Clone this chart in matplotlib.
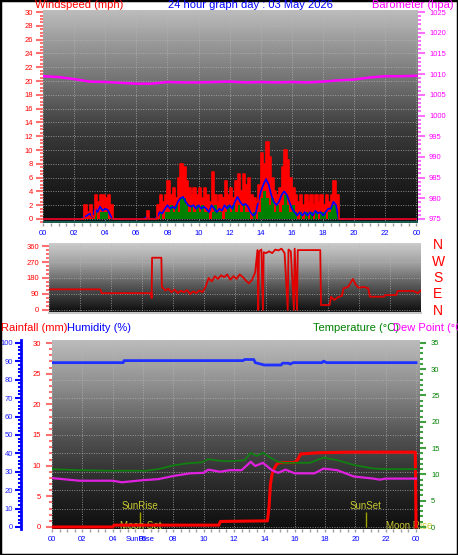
import matplotlib
matplotlib.use("Agg")
import matplotlib.pyplot as plt
import numpy as np
from matplotlib.patches import Rectangle
from matplotlib.ticker import MultipleLocator, FixedLocator, FuncFormatter

W, H = 458, 555
plt.rcParams["font.family"] = ["Liberation Sans", "DejaVu Sans"]

# --- wind (mph), 10 minute samples in two active spells, zero elsewhere ---
early_start, late_start = 2.5, 6.5
gust_early = [0, 2.0, 1.0, 2.0, 0.5, 3.5, 2.5, 3.5, 3.5, 3.0, 3.5, 2.0, 0]
avg_early = [0, 0.3, 0.5, 0.8, 0.3, 1.5, 1.0, 1.8, 1.2, 1.5, 1.3, 0.5, 0]
speed_early = [0, 0, 0, 0, 0, 1, 0, 1, 1, 1, 0, 0, 0]
gust_late = [0, 1.2, 0, 0, 0, 2.0, 3.5, 2.5, 3.5,
             5.5, 3.5, 4.5, 3.0, 6.0, 8.0,
             7.5, 5.5, 4.5, 3.5, 4.5, 3.5,
             4.5, 3.0, 4.5, 3.5, 2.5, 6.8,
             3.5, 2.5, 3.5, 3.0, 5.5, 3.5,
             4.5, 3.0, 5.5, 6.5, 4.0, 6.5,
             5.0, 6.0, 3.5, 3.0, 2.5, 5.0,
             9.5, 8.0, 11.2, 9.0, 6.0, 4.0,
             3.5, 4.5, 7.5, 10.0, 8.5, 6.0,
             4.5, 3.5, 2.5, 3.5, 2.0, 3.5,
             2.5, 3.5, 2.0, 3.5, 2.5, 3.5,
             2.0, 3.5, 2.5, 3.5, 5.5, 3.5,
             0]
avg_late = [0, 0.3, 0, 0, 0, 0.3, 1.0, 0.8, 1.5,
            2.0, 1.5, 1.8, 1.5, 2.5, 3.0,
            3.2, 2.5, 2.0, 1.8, 2.0, 1.5,
            2.0, 1.5, 1.8, 1.5, 1.0, 2.0,
            1.5, 1.0, 1.5, 1.2, 2.0, 1.5,
            2.0, 1.5, 2.5, 3.2, 2.5, 2.0,
            2.2, 1.8, 1.0, 0.5, 0.8, 2.5,
            4.0, 5.0, 5.8, 5.0, 3.5, 2.5,
            2.0, 2.5, 3.5, 4.0, 3.5, 2.5,
            1.5, 1.0, 0.5, 1.0, 0.5, 1.0,
            0.5, 1.0, 0.5, 1.2, 0.8, 1.0,
            0.5, 1.0, 1.5, 1.5, 2.5, 2.0,
            0]
speed_late = [0, 0, 0, 0, 0, 0, 1, 0, 1,
              1, 2, 1, 2, 1, 3,
              3, 2, 1, 2, 1, 2,
              1, 2, 1, 1, 0, 1,
              2, 1, 1, 0, 1, 2,
              1, 2, 1, 2, 1, 2,
              1, 1, 0, 1, 0, 1,
              3, 4, 3, 2, 3, 1,
              2, 1, 2, 3.5, 2, 1,
              2, 1, 0, 1, 0, 1,
              0, 1, 0, 1, 0, 1,
              1, 0, 1, 2, 2, 1,
              0]

# --- barometer (hPa), hourly ---
baro_t = list(range(25))
baro = [1009.5, 1009.3, 1008.8, 1008.2, 1008.1, 1007.9, 1007.7, 1007.7, 1008.1,
        1008.0, 1008.0, 1008.1, 1008.2, 1008.0, 1008.1, 1008.0, 1008.1, 1008.0,
        1008.2, 1008.5, 1008.7, 1009.2, 1009.5, 1009.5, 1009.6]

# --- wind direction (deg) ---
dir_t = [0.0, 3.3, 3.4, 5.0, 6.6, 6.62, 6.65, 7.25, 7.28, 7.5, 7.7, 7.9, 8.1, 8.3,
         8.5, 8.7, 8.9, 9.1, 9.3, 9.5, 9.7, 9.9, 10.1, 10.3, 10.5, 10.7, 10.9,
         11.1, 11.3, 11.5, 11.7, 11.9, 12.1, 12.3, 12.5, 12.7, 12.9, 13.1, 13.3,
         13.45, 13.5, 13.55, 13.7, 13.8, 13.85, 14.0, 14.2, 14.4, 14.6, 14.8,
         15.0, 15.2, 15.4, 15.45, 15.6, 15.8, 15.85, 16.0, 16.05, 17.5, 17.55,
         18.1, 18.2, 18.4, 18.6, 18.9, 19.0, 19.3, 19.6, 19.8, 20.0, 20.3, 20.6,
         20.7, 21.6, 21.7, 22.4, 22.5, 23.5, 23.8, 24.0]
dir_v = [116, 116, 94, 95, 94, 67, 294, 294, 131, 110, 120, 100, 115, 95,
         108, 100, 112, 90, 105, 95, 110, 100, 130, 180, 160, 190, 175,
         195, 185, 200, 170, 190, 175, 200, 185, 165, 150, 170, 211,
         337, 0, 330, 340, 0, 325, 320, 330, 320, 340, 335,
         345, 320, 0, 340, 330, 0, 345, 0, 337, 337, 28,
         28, 75, 56, 70, 80, 122, 130, 175, 140, 125, 130, 122,
         75, 75, 84, 84, 107, 107, 95, 110]
compass = ["N", "W", "S", "E", "N"]

# --- temperature / dew point (C), rainfall (mm), humidity (%) ---
temp_t = [0, 1.8, 4.0, 6.2, 7.0, 8.0, 8.9, 9.9, 10.3, 11.0, 11.7, 12.7, 13.1, 13.5,
          13.9, 14.5, 14.9, 15.3, 17.0, 17.9, 18.8, 19.9, 21.2, 22.1, 24.0]
temp = [11.0, 10.8, 10.7, 10.7, 11.0, 11.7, 12.1, 12.3, 12.9, 12.6, 12.5, 12.7, 14.1,
        13.5, 14.1, 13.0, 12.4, 12.2, 12.2, 13.2, 12.7, 11.8, 11.1, 11.0, 11.0]
dew_t = [0, 1.8, 4.0, 4.6, 6.0, 7.0, 8.0, 9.1, 10.0, 10.3, 11.1, 11.7, 12.5, 13.1,
         13.4, 13.9, 14.5, 14.9, 15.4, 16.0, 17.3, 17.9, 18.8, 19.9, 21.2, 21.6,
         22.0, 24.0]
dew = [9.3, 8.8, 8.8, 8.5, 8.9, 9.1, 9.7, 10.2, 10.3, 10.9, 10.5, 10.8, 10.8, 12.4,
       11.6, 12.2, 10.8, 10.3, 10.9, 10.2, 10.2, 11.1, 10.8, 9.6, 9.2, 9.0, 9.2, 9.2]
rain_t = [0, 4.0, 4.1, 11.0, 11.1, 14.2, 14.3, 14.4, 14.5, 14.6, 14.8, 15.0, 16.0,
          16.2, 16.4, 17.5, 19.6, 23.95, 24.0]
rain = [0, 0, 0.3, 0.3, 0.9, 1.0, 3.0, 7.0, 8.5, 9.3, 10.2, 10.5, 10.5, 11.0, 11.9,
        12.1, 12.2, 12.2, 0]
hum_t = [0, 4.7, 4.75, 12.6, 12.7, 13.3, 13.4, 14.0, 15.1, 15.2, 15.6, 15.7, 15.9,
         17.8, 17.9, 18.1, 24.0]
hum = [89.3, 89.3, 90.4, 90.4, 91.0, 91.0, 89.3, 88.0, 88.0, 89.0, 89.0, 88.5, 89.3,
       89.3, 90.1, 89.3, 89.3]

sun_events = [("SunRise", 5.8), ("SunSet", 20.7)]
moon_events = [("Moon Set", 5.85), ("Moon Rise", 22.0)]

RED, BLUE, MAG, GREEN = "#ff0000", "#0000ff", "#ff00ff", "#008000"
YEL = "#c8c832"


def box(x0, y0, x1, y1):
    return [x0 / W, 1 - y1 / H, (x1 - x0) / W, (y1 - y0) / H]


def background(rect, stops):
    bg = fig.add_axes(rect, zorder=-5)
    f = np.linspace(0, 1, 300)
    g = np.interp(f, [s[0] for s in stops], [s[1] for s in stops])
    img = np.repeat(g[:, None], 3, axis=1)[:, None, :]
    bg.imshow(img, aspect="auto", interpolation="bilinear")
    bg.axis("off")


def hour_axis(ax):
    ax.xaxis.set_major_locator(MultipleLocator(2))
    ax.xaxis.set_minor_locator(MultipleLocator(0.5))
    ax.xaxis.set_major_formatter(FuncFormatter(lambda v, p: f"{int(v) % 24:02d}"))
    ax.tick_params(axis="x", which="both", length=2, width=1, colors="#a0a0a0",
                   labelcolor=BLUE, labelsize=5.5, pad=3)


def style_y(ax, major, minor, tcol, lcol, side="left", pad=2):
    ax.yaxis.set_major_locator(major)
    ax.yaxis.set_minor_locator(minor)
    ax.tick_params(axis="y", which="major", length=5, width=1.5, colors=tcol,
                   labelcolor=lcol, labelsize=5.5, pad=pad,
                   left=(side == "left"), labelleft=(side == "left"),
                   right=(side == "right"), labelright=(side == "right"))
    ax.tick_params(axis="y", which="minor", length=2, width=1.5, colors=tcol,
                   left=(side == "left"), right=(side == "right"))
    for s in ax.spines.values():
        s.set_visible(False)


fig = plt.figure(figsize=(W / 100, H / 100), dpi=100)
fig.patch.set_facecolor("white")

grid_kw = dict(color="#b8b8b8", linestyle=(0, (1, 1.5)), linewidth=0.7, alpha=0.7)

# ---------------- top panel: wind speed + barometer ----------------
top = box(43, 10, 418, 223)
background(top, [(0, 0.74), (0.13, 0.62), (0.33, 0.45), (0.46, 0.33), (0.55, 0.24),
                 (0.75, 0.14), (1.0, 0.05)])
ax_w = fig.add_axes(top)
ax_w.set_facecolor("none")
ax_w.set_axisbelow(True)

wt = np.concatenate([[0], early_start + np.arange(len(gust_early)) / 6,
                     late_start + np.arange(len(gust_late)) / 6, [24]])
gust = np.concatenate([[0], gust_early, gust_late, [0]])
avg = np.concatenate([[0], avg_early, avg_late, [0]])
speed = np.concatenate([[0], speed_early, speed_late, [0]])

ax_w.axhline(-0.4, color="#1f5a50", lw=1.6, zorder=1)
ax_w.fill_between(wt, 0, gust, step="post", color=RED, lw=0, zorder=2)
ax_w.fill_between(wt, 0, speed, step="post", color="#008000", lw=0, zorder=3)
ax_w.plot(wt, avg, color=BLUE, lw=1.2, zorder=4)
ax_w.step(wt, gust, where="post", color=RED, lw=1.2, zorder=5)
ax_w.set_xlim(0, 24.1)
ax_w.set_ylim(-0.58, 30.3)
hour_axis(ax_w)
style_y(ax_w, MultipleLocator(2), MultipleLocator(0.5), "#ff7070", RED)
ax_w.grid(True, which="major", **grid_kw)

ax_b = ax_w.twinx()
ax_b.plot(baro_t, baro, color=MAG, lw=1.8)
ax_b.set_ylim(974.03, 1025.5)
style_y(ax_b, MultipleLocator(5), MultipleLocator(1), "#ff70ff", MAG, side="right", pad=3)

fig.text(35 / W, 1 - 5 / H, "Windspeed (mph)", color=RED, fontsize=8, va="center")
fig.text(250 / W, 1 - 5 / H, "24 hour graph day : 03 May 2026", color=BLUE,
         fontsize=8, va="center", ha="center")
fig.text(372 / W, 1 - 5 / H, "Barometer (hpa)", color=MAG, fontsize=8, va="center")

# ---------------- middle panel: wind direction ----------------
mid = box(49, 243, 421, 313)
background(mid, [(0, 0.80), (0.3, 0.62), (0.6, 0.35), (0.95, 0.08), (1.0, 0.08)])
ax_d = fig.add_axes(mid)
ax_d.set_facecolor("none")
ax_d.plot(dir_t, dir_v, color="#e00000", lw=1.3)
ax_d.set_xlim(0, 24)
ax_d.set_ylim(-16.9, 376.9)
style_y(ax_d, FixedLocator([0, 90, 180, 270, 360]), MultipleLocator(22.5),
        "#ff7070", RED)
ax_d.xaxis.set_major_locator(MultipleLocator(2))
ax_d.tick_params(axis="x", which="both", bottom=False, labelbottom=False)
ax_d.grid(True, which="major", **grid_kw)
ax_d.spines["bottom"].set_visible(True)
ax_d.spines["bottom"].set_color("#c8c8c8")
ax_d.spines["bottom"].set_linewidth(1.5)
for i, c in enumerate(compass):
    fig.text(438 / W, 1 - (245 + i * 16.5) / H, c, color=RED, fontsize=10,
             ha="center", va="center")

# ---------------- bottom panel: rain / humidity / temperature ----------------
bot = box(52, 340, 420, 529)
background(bot, [(0, 0.74), (0.25, 0.55), (0.5, 0.33), (0.67, 0.22), (0.85, 0.12),
                 (1.0, 0.06)])
ax_h = fig.add_axes(bot)
ax_h.set_facecolor("none")
ax_h.set_axisbelow(True)
ax_h.set_xlim(0, 24.26)
ax_h.set_ylim(-1.09, 101.6)
hour_axis(ax_h)
style_y(ax_h, MultipleLocator(10), MultipleLocator(2), BLUE, "#2020ff", pad=2)
ax_h.spines["left"].set_visible(True)
ax_h.spines["left"].set_position(("outward", 22))
ax_h.spines["left"].set_color(BLUE)
ax_h.spines["left"].set_linewidth(2)
ax_h.tick_params(axis="y", which="major", length=4)
ax_h.grid(True, which="major", **grid_kw)
ax_h.plot(hum_t, hum, color="#2030ff", lw=2)

ax_r = ax_h.twinx()
ax_r.set_ylim(-0.33, 30.49)
style_y(ax_r, MultipleLocator(5), MultipleLocator(1), "#ff7070", RED, pad=4)
ax_r.tick_params(axis="y", which="major", length=4)

ax_t = ax_h.twinx()
ax_t.set_ylim(-0.38, 35.55)
style_y(ax_t, MultipleLocator(5), MultipleLocator(1), "#40a040", GREEN,
        side="right", pad=4)
ax_t.tick_params(axis="y", which="major", length=4)

ax_t.plot(temp_t, temp, color="#108010", lw=1.3)
ax_t.plot(dew_t, dew, color="#e020e0", lw=1.6)
ax_r.plot(rain_t, rain, color=RED, lw=2.2)

for name, t in sun_events:
    ax_h.vlines(t, 0, 8, color="#a0a000", lw=1)
    ax_h.text(t, 11.2, name, color=YEL, fontsize=7, ha="center", va="center")
for name, t in moon_events:
    ax_h.text(t, 0.6, name, color=YEL, fontsize=7,
              ha="center" if name == "Moon Set" else "left", va="center")
ax_h.text(sun_events[0][1], -0.058, "SunRise", color=BLUE, fontsize=5.5,
          ha="center", va="center", transform=ax_h.get_xaxis_transform())

fig.text(1 / W, 1 - 328 / H, "Rainfall (mm)", color=RED, fontsize=8, va="center")
fig.text(67 / W, 1 - 328 / H, "Humidity (%)", color=BLUE, fontsize=8, va="center")
fig.text(313 / W, 1 - 328 / H, "Temperature (\u00b0C)", color=GREEN, fontsize=8,
         va="center")
fig.text(393 / W, 1 - 328 / H, "Dew Point (\u00b0C)", color=MAG, fontsize=8,
         va="center")

fig.patches.append(Rectangle((0, 0), 1, 1, transform=fig.transFigure, fill=False,
                             ec="black", lw=2.5))
fig.savefig("out.png", dpi=100)
